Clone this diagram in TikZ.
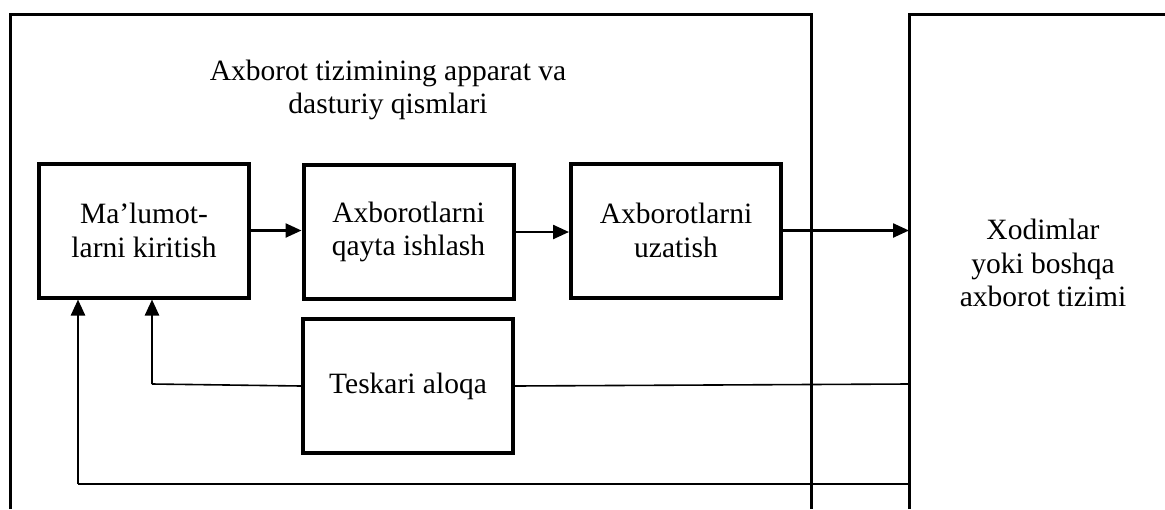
\documentclass[tikz,border=0pt]{standalone}
\usepackage{fontspec}
\setmainfont{Liberation Serif}
\usetikzlibrary{arrows.meta}
\begin{document}
\begin{tikzpicture}[x=1pt,y=-1pt,
  txt/.style={font=\fontsize{29.5}{33.5}\selectfont, align=center, inner sep=0pt},
  stepbox/.style={txt, draw, line width=4pt, minimum width=210pt, minimum height=134pt},
  frame/.style={line width=3pt},
  flow/.style={line width=2.4pt, -{Triangle[length=16pt,width=14pt]}},
  thin/.style={line width=1.6pt}]
  \useasboundingbox (0,0) rectangle (1165,509);

  % outer frames, open at the bottom (and at the right)
  \draw[frame] (10,509) -- (10,14) -- (811,14) -- (811,509);
  \draw[frame] (909,509) -- (909,14) -- (1168,14);
  \coordinate (xw) at (909,262);

  % title of the left frame
  \node[txt] (title) at (388,90) {Axborot tizimining apparat va\\dasturiy qismlari};

  % process boxes
  \node[stepbox] (b1) at (144,230.5) {Ma’lumot-\\larni kiritish};
  \node[stepbox] (b2) at (408.5,232) {Axborotlarni\\qayta ishlash};
  \node[stepbox] (b3) at (676,230.5) {Axborotlarni\\uzatish};
  \node[stepbox] (tk) at (408,386) {Teskari aloqa};

  % receiving side
  \node[txt] (xod) at (1043,263) {Xodimlar\\yoki boshqa\\axborot tizimi};

  % forward flow
  \draw[flow] (b1.east) -- (b1.east -| b2.west);
  \draw[flow] (b2.east) -- (b2.east -| b3.west);
  \draw[flow] (b3.east) -- (b3.east -| xw);

  % feedback paths
  \coordinate (fbA) at (909,384);
  \coordinate (fbB) at (909,484);
  \draw[thin] (fbA) -- (tk.east);
  \draw[thin] (tk.west) -- (152,384);
  \draw[flow] (152,384) -- ([xshift=8pt]b1.south);
  \draw[thin] (fbB) -- (78,484);
  \draw[flow] (78,484) -- ([xshift=-66pt]b1.south);
\end{tikzpicture}
\end{document}
